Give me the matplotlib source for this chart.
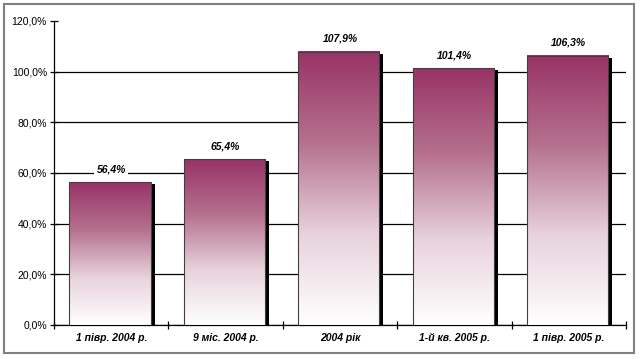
import numpy as np
import matplotlib.pyplot as plt
from matplotlib.colors import LinearSegmentedColormap
from matplotlib.patches import Rectangle

# --- data ---
categories = ["1 півр. 2004 р.", "9 міс. 2004 р.", "2004 рік", "1-й кв. 2005 р.", "1 півр. 2005 р."]
values = [56.4, 65.4, 107.9, 101.4, 106.3]
y_ticks = [0, 20, 40, 60, 80, 100, 120]

plt.rcParams['font.family'] = ['Liberation Sans', 'DejaVu Sans']

fig = plt.figure(figsize=(6.4, 3.59), dpi=100)
fig.patches.append(Rectangle((4 / 640, 6 / 359), 630 / 640, 349 / 359, transform=fig.transFigure,
                             fill=False, edgecolor='#808080', lw=1.5))
ax = fig.add_axes([54 / 640, 34 / 359, 572 / 640, 304 / 359])

cmap = LinearSegmentedColormap.from_list('plum', ['#ffffff', '#e8d2dc', '#b5718f', '#993366'])
grad = np.linspace(0, 1, 256).reshape(-1, 1)

w = 0.71
sw = 0.035
dy = 0.8
for i, v in enumerate(values):
    x0 = i - w / 2 - 0.01
    # shadow
    ax.add_patch(Rectangle((x0 + w, 0), sw, v - dy, facecolor='black', edgecolor='none', zorder=2))
    ax.imshow(grad, extent=(x0, x0 + w, 0, v), origin='lower', cmap=cmap, aspect='auto', zorder=3)
    ax.add_patch(Rectangle((x0, 0), w, v, fill=False, edgecolor='#404040', lw=0.8, zorder=4))
    lbl = f"{v:.1f}%".replace('.', ',')
    ax.annotate(lbl, (i, v), xytext=(0, 13), textcoords='offset pixels', ha='center', va='center',
                fontsize=7.5, fontweight='bold', fontstyle='italic', zorder=5,
                bbox=dict(facecolor='white', edgecolor='none', pad=1.5))

ax.set_xlim(-0.5, 4.5)
ax.set_ylim(0, 120)
ax.set_yticks(y_ticks)
ax.set_yticklabels([f"{t:.1f}%".replace('.', ',') for t in y_ticks], fontsize=7.5)
ax.yaxis.grid(True, color='black', lw=0.9)
ax.set_axisbelow(True)
# no gridline at the top value
ax.get_ygridlines()[-1].set_visible(False)

ax.set_xticks(np.arange(-0.5, 5, 1))
ax.set_xticklabels([])
ax.set_xticks(range(5), minor=True)
ax.set_xticklabels(categories, minor=True, fontsize=7.5, fontweight='bold', fontstyle='italic')
ax.tick_params(axis='x', which='minor', length=0, pad=6)
ax.tick_params(axis='x', which='major', direction='inout', length=6, width=0.9)
ax.tick_params(axis='y', direction='inout', length=6, width=0.9, pad=2)

for s in ['top', 'right']:
    ax.spines[s].set_visible(False)
for s in ['left', 'bottom']:
    ax.spines[s].set_linewidth(0.9)

fig.savefig('out.png', dpi=100)
